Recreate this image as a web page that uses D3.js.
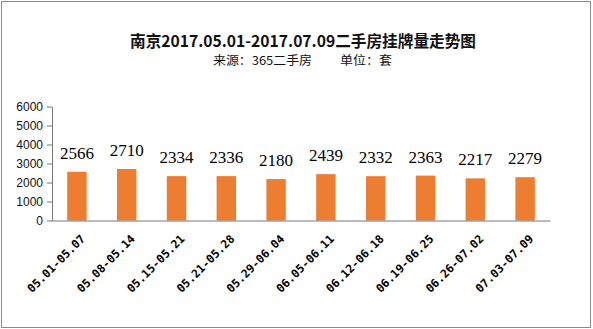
<!DOCTYPE html>
<html><head><meta charset="utf-8">
<script src="https://cdn.jsdelivr.net/npm/d3@7"></script>
<style>body{margin:0;background:#fff}svg{display:block}</style>
</head><body>
<script>
const categories = ["05.01-05.07","05.08-05.14","05.15-05.21","05.21-05.28","05.29-06.04","06.05-06.11","06.12-06.18","06.19-06.25","06.26-07.02","07.03-07.09"];
const values = [2566,2710,2334,2336,2180,2439,2332,2363,2217,2279];
const yTicks = [0,1000,2000,3000,4000,5000,6000];
const title = "南京2017.05.01-2017.07.09二手房挂牌量走势图";
const subtitleSource = "来源：365二手房";
const subtitleUnit = "单位：套";

const W = 593, H = 329;
const svg = d3.select("body").append("svg").attr("width", W).attr("height", H);
svg.append("rect").attr("x",0).attr("y",0).attr("width",W).attr("height",H).attr("fill","#fff");

// border
svg.append("rect").attr("x",1.5).attr("y",1.5).attr("width",589).attr("height",326)
  .attr("fill","none").attr("stroke","#8a8a8a").attr("stroke-width",1);

// titles
svg.append("text").attr("x",130).attr("y",46.5).attr("textLength",346).attr("lengthAdjust","spacingAndGlyphs")
  .attr("font-family","Noto Sans CJK SC").attr("font-weight","bold").attr("font-size",16).attr("fill","#111").text(title);
svg.append("text").attr("x",213).attr("y",65).attr("textLength",99).attr("lengthAdjust","spacingAndGlyphs")
  .attr("font-family","Noto Sans CJK SC").attr("font-size",12).attr("fill","#111").text(subtitleSource);
svg.append("text").attr("x",340).attr("y",65).attr("textLength",52).attr("lengthAdjust","spacingAndGlyphs")
  .attr("font-family","Noto Sans CJK SC").attr("font-size",12).attr("fill","#111").text(subtitleUnit);

const x = d3.scaleBand().domain(categories).range([52,550]).paddingInner(0.61).paddingOuter(0.305);
const y = d3.scaleLinear().domain([0,6000]).range([220.5,106.5]);

// y axis
const ya = svg.append("g").attr("transform","translate(52,0)")
  .call(d3.axisLeft(y).tickValues(yTicks).tickFormat(d3.format("d")).tickSize(5).tickSizeOuter(0).tickPadding(4));
ya.select(".domain").attr("stroke","#777");
ya.selectAll(".tick line").attr("stroke","#777");
ya.selectAll("text").attr("font-family","Liberation Sans, Arial").attr("font-size",12).attr("fill","#111");

// bars
svg.append("g").selectAll("rect").data(values).join("rect")
  .attr("x",(d,i)=>x(categories[i])).attr("width",x.bandwidth())
  .attr("y",d=>y(d)).attr("height",d=>y(0)-y(d)).attr("fill","#ED7D31");

// x axis
const xa = svg.append("g").attr("transform","translate(0,220.5)")
  .call(d3.axisBottom(x).tickSize(0).tickSizeOuter(0));
xa.select(".domain").attr("stroke","#777");
xa.selectAll("text").attr("font-family","DejaVu Sans Mono").attr("font-weight","bold").attr("font-size",11.5).attr("fill","#000")
  .attr("text-anchor","end").attr("dy",null).attr("y",0)
  .attr("transform","translate(9,19) rotate(-45)");

// value labels
svg.append("g").selectAll("text").data(values).join("text")
  .attr("x",(d,i)=>x(categories[i])+x.bandwidth()/2).attr("y",d=>y(d)-13)
  .attr("text-anchor","middle").attr("font-family","Liberation Serif, Times New Roman").attr("font-size",17)
  .attr("fill","#000").text(d=>d);
</script>
</body></html>
